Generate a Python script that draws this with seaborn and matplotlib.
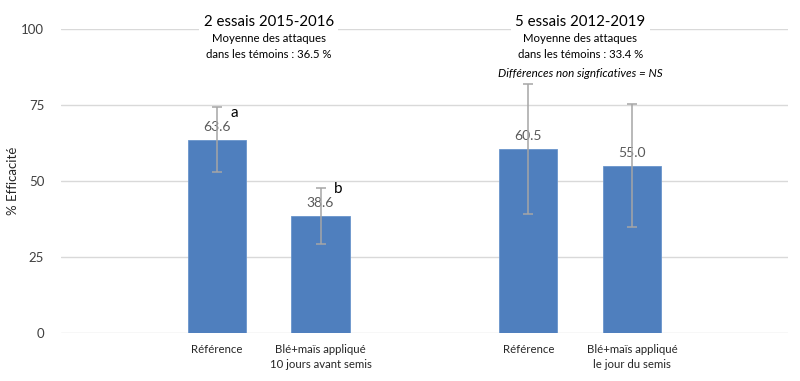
import matplotlib
matplotlib.use("Agg")
import matplotlib.pyplot as plt
import numpy as np
import pandas as pd
import seaborn as sns

# data
slots = ["pad0", "ref_1", "ble_1", "pad1", "ref_2", "ble_2", "pad2"]
bar_keys = ["ref_1", "ble_1", "ref_2", "ble_2"]
efficacite = [63.6, 38.6, 60.5, 55.0]
err = [10.8, 9.2, 21.5, 20.3]
letters = ["a", "b", "", ""]
tick_labels = ["", "Référence", "Blé+maïs appliqué\n10 jours avant semis", "",
               "Référence", "Blé+maïs appliqué\nle jour du semis", ""]
group_titles = ["2 essais 2015-2016", "5 essais 2012-2019"]
group_notes = ["Moyenne des attaques\ndans les témoins : 36.5 %",
               "Moyenne des attaques\ndans les témoins : 33.4 %"]
ns_note = "Différences non signficatives = NS"

df = pd.DataFrame({"slot": bar_keys, "val": efficacite})

sns.set_theme(style="white")
plt.rcParams["font.family"] = ["Lato", "DejaVu Sans"]

fig = plt.figure(figsize=(8, 3.81), dpi=100)
ax = fig.add_axes([0.076, 0.126, 0.909, 0.798])

sns.barplot(data=df, x="slot", y="val", order=slots, color="#4F7FBE",
            width=0.56, edgecolor="#6A95CC", linewidth=0.6, saturation=1,
            errorbar=None, ax=ax, zorder=2)

pos = {s: i for i, s in enumerate(slots)}
xs = [pos[k] for k in bar_keys]
ax.errorbar(xs, efficacite, yerr=err, fmt="none", ecolor="#A6A6A6",
            elinewidth=1.1, capsize=3.5, capthick=1.1, zorder=4)

for x, v, l in zip(xs, efficacite, letters):
    ax.text(x, v + 4.3, f"{v:.1f}", ha="center", va="center", fontsize=10,
            color="#595959", zorder=3)
    if l:
        ax.text(x + 0.17, v + 8.8, l, ha="center", va="center", fontsize=11,
                color="black", zorder=5)

ax.set_ylim(0, 100)
ax.set_xlim(-0.5, len(slots) - 0.5)
ax.set_yticks([0, 25, 50, 75, 100])
ax.yaxis.grid(True, color="#D9D9D9", linewidth=1)
ax.set_axisbelow(True)
for s in ax.spines.values():
    s.set_visible(False)
ax.tick_params(axis="y", length=0, labelsize=9.5, colors="#404040", pad=12)
ax.tick_params(axis="x", length=0, labelsize=8.2, colors="#262626", pad=8)
ax.set_xticks(range(len(slots)))
ax.set_xticklabels(tick_labels, linespacing=1.4)
ax.set_xlabel("")
ax.set_ylabel("% Efficacité", fontsize=9.5, color="#262626")
ax.yaxis.set_label_coords(-0.057, 0.5)

centers = [1.5, 4.5]
for c, t, n in zip(centers, group_titles, group_notes):
    ax.text(c, 100, t, ha="center", va="bottom", fontsize=10.8, color="black",
            bbox=dict(facecolor="white", edgecolor="none", pad=3), zorder=6)
    ax.text(c, 98.8, n, ha="center", va="top", fontsize=8.2, color="black",
            linespacing=1.55, zorder=6)
ax.text(centers[1], 85.5, ns_note, ha="center", va="center", fontsize=8.4,
        style="italic", color="black", zorder=6)

fig.savefig("out.png", dpi=100)
